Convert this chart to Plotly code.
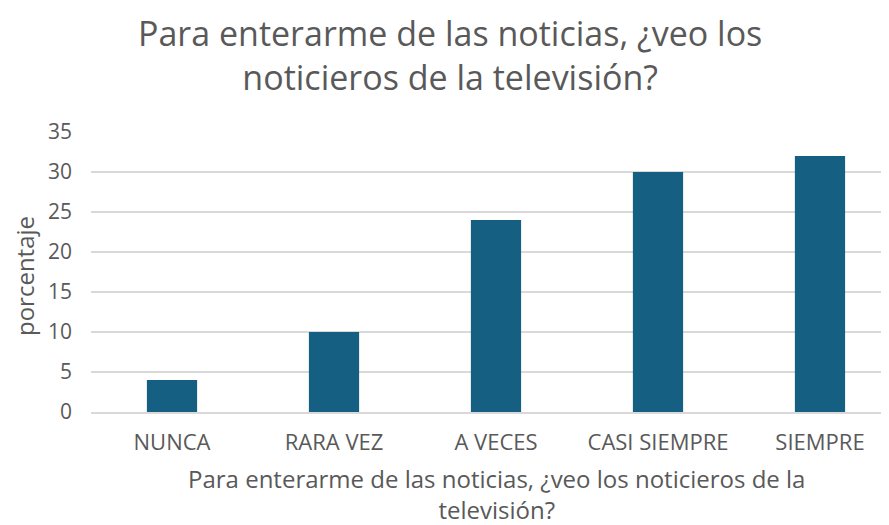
import plotly.graph_objects as go

categorias = ["NUNCA", "RARA VEZ", "A VECES", "CASI SIEMPRE", "SIEMPRE"]
porcentajes = [4, 10, 24, 30, 32]
y_ticks = [0, 5, 10, 15, 20, 25, 30, 35]

TITULO = "Para enterarme de las noticias, ¿veo los<br>noticieros de la televisión?"
X_TITULO = "Para enterarme de las noticias, ¿veo los noticieros de la<br>televisión?"

GRIS = "#595959"
FUENTE = "Open Sans, Arial, sans-serif"

# posiciones en píxeles de pantalla del área de trazado (izq 91, abajo 412)
def px_x(sx):
    return (sx - 91) / 798


def px_y(sy):
    return (412 - sy) / 280


fig = go.Figure()
fig.add_trace(go.Bar(
    x=categorias,
    y=porcentajes,
    marker=dict(color="#156082", line=dict(width=0)),
    width=0.31,
    showlegend=False,
))

fig.update_layout(
    width=881, height=517,
    margin=dict(l=83, r=0, t=124, b=113),
    paper_bgcolor="white",
    plot_bgcolor="white",
    font=dict(family=FUENTE, color=GRIS, size=21),
)

# el área de trazado original se extiende más allá del borde derecho
fig.update_xaxes(
    range=[-0.5, 4.426],
    showgrid=False, zeroline=False,
    showline=True, linecolor="#d9d9d9", linewidth=1.5,
    ticks="", tickfont=dict(size=22, color=GRIS),
    ticklabelstandoff=10,
)
fig.update_yaxes(
    range=[0, 35], tickvals=y_ticks,
    showgrid=True, gridcolor="#d9d9d9", gridwidth=1.5,
    zeroline=False, showline=False, ticks="",
    tickfont=dict(size=21, color=GRIS),
    ticklabelstandoff=18,
)

fig.add_annotation(
    xref="paper", yref="paper", x=px_x(450), y=px_y(8),
    text=TITULO, showarrow=False, xanchor="center", yanchor="top",
    font=dict(size=34, color=GRIS, family=FUENTE), align="center",
)
fig.add_annotation(
    xref="paper", yref="paper", x=px_x(496), y=px_y(494),
    text=X_TITULO, showarrow=False, xanchor="center", yanchor="middle",
    font=dict(size=24, color=GRIS, family=FUENTE), align="center",
)
fig.add_annotation(
    xref="paper", yref="paper", x=px_x(24), y=px_y(276),
    text="porcentaje", showarrow=False, xanchor="center", yanchor="middle",
    textangle=-90,
    font=dict(size=24, color=GRIS, family=FUENTE),
)

fig.write_html("out.html")
